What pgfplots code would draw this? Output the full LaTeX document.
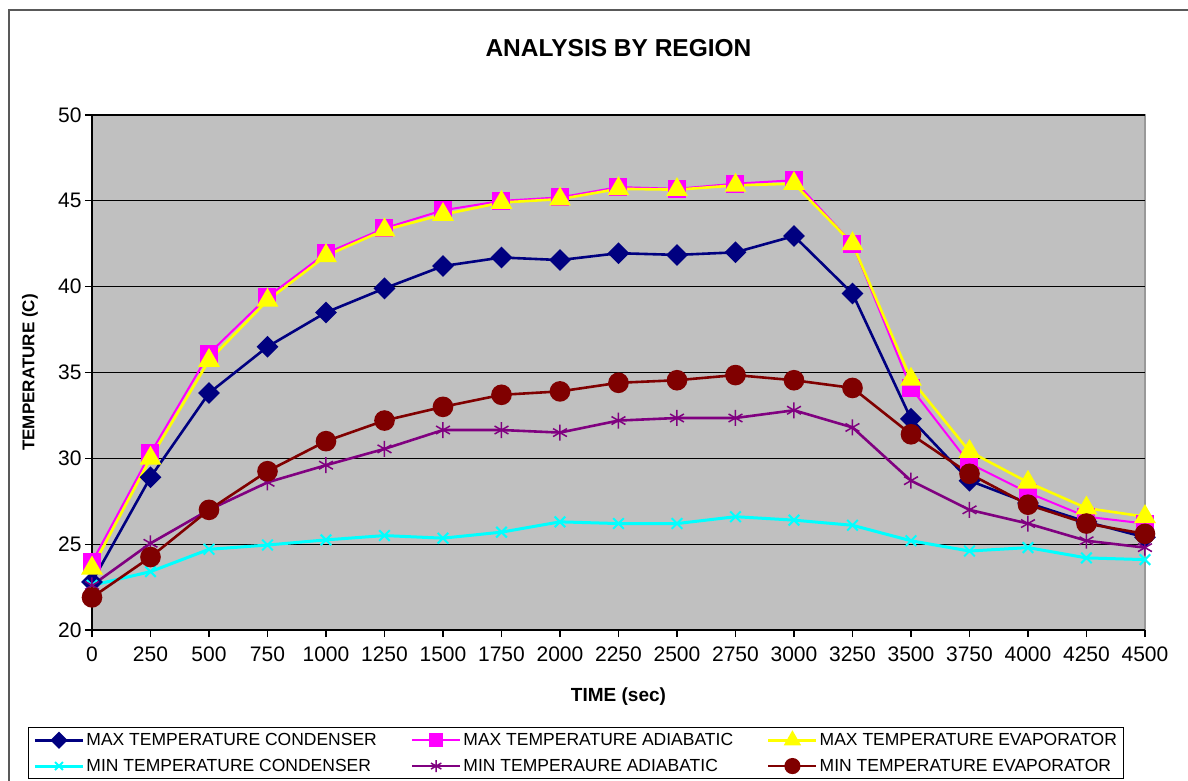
\documentclass[border=0pt]{standalone}
\usepackage{fontspec}
\setmainfont{Liberation Sans}
\usepackage{pgfplots}
\pgfplotsset{compat=1.18}
\usepackage{pgfplotstable}
\definecolor{cnavy}{HTML}{000080}
\definecolor{cmag}{HTML}{FF00FF}
\definecolor{cyel}{HTML}{FFFF00}
\definecolor{ccyan}{HTML}{00FFFF}
\definecolor{cpurp}{HTML}{800080}
\definecolor{cmaroon}{HTML}{800000}
\definecolor{csilver}{HTML}{C0C0C0}

\pgfplotstableread{
t     maxc  maxa  maxe  minc  mina  mine
0     22.8  23.95 23.6  22.6  22.6  21.9
250   28.9  30.3  30.0  23.4  25.05 24.25
500   33.8  36.1  35.7  24.7  27.0  27.0
750   36.5  39.4  39.2  24.95 28.6  29.25
1000  38.5  41.95 41.8  25.25 29.6  31.0
1250  39.9  43.4  43.3  25.5  30.55 32.2
1500  41.2  44.45 44.2  25.35 31.65 33.0
1750  41.7  45.0  44.9  25.7  31.65 33.7
2000  41.55 45.2  45.1  26.3  31.5  33.9
2250  41.95 45.8  45.7  26.2  32.2  34.4
2500  41.85 45.7  45.65 26.2  32.35 34.55
2750  42.0  46.0  45.9  26.6  32.35 34.85
3000  42.95 46.2  46.0  26.4  32.8  34.55
3250  39.6  42.5  42.5  26.1  31.8  34.1
3500  32.3  34.1  34.6  25.2  28.7  31.4
3750  28.7  29.7  30.4  24.6  27.0  29.1
4000  27.4  28.0  28.6  24.8  26.2  27.3
4250  26.3  26.6  27.1  24.2  25.2  26.2
4500  25.4  26.2  26.6  24.1  24.8  25.6
}\datatable

\begin{document}
\begin{tikzpicture}
\useasboundingbox (0,0) rectangle (1188pt,780pt);
\draw[gray!70!black, line width=1.5pt] (9pt,-20pt) -- (9pt,770pt) -- (1200pt,770pt);
\begin{axis}[
  at={(92pt,150pt)}, anchor=south west,
  scale only axis, width=1053pt, height=515pt,
  xmin=0, xmax=4500, ymin=20, ymax=50,
  xtick={0,250,...,4500}, ytick={20,25,...,50},
  scaled x ticks=false,
  /pgf/number format/1000 sep={},
  /pgf/number format/assume math mode=true,
  axis x line*=bottom, axis y line*=left,
  axis line style={-, black, line width=1.2pt},
  axis background/.style={fill=csilver, draw=gray!80, line width=1.5pt},
  tick align=outside, major tick length=7pt,
  tick style={black, line width=1.2pt},
  ymajorgrids, grid style={black, line width=1.2pt},
  ticklabel style={font=\fontsize{21}{25}\selectfont},
  xticklabel style={yshift=-6pt},
  title={ANALYSIS BY REGION},
  title style={at={(0.5,1.119)}, anchor=center, font=\fontsize{24.5}{28}\selectfont\bfseries},
  xlabel={TIME (sec)},
  xlabel style={at={(0.5,-0.130)}, anchor=center, font=\fontsize{19}{23}\selectfont\bfseries},
  ylabel={TEMPERATURE (C)},
  ylabel style={at={(-0.0589,0.5)}, anchor=center, font=\fontsize{17}{21}\selectfont\bfseries},
  legend columns=3,
  legend cell align=left,
  legend style={at={(-0.0608,-0.1883)}, anchor=north west, draw=black, line width=1pt, fill=white,
    font=\fontsize{17.5}{21}\selectfont, inner xsep=5pt, inner ysep=4pt,
    /tikz/every even column/.append style={column sep=32pt}, row sep=8pt},
  legend image code/.code={\draw[mark repeat=2, mark phase=2] plot coordinates {(0pt,0pt) (24pt,0pt) (48pt,0pt)};},
  legend image post style={/tikz/every mark/.append style={scale=0.75}},
]
\addplot[cnavy, line width=2.6pt, mark=square*, mark size=6.4pt, mark options={rotate=45, solid, fill=cnavy}] table[x=t, y=maxc] {\datatable};
\addlegendentry{MAX TEMPERATURE CONDENSER}
\addplot[cmag, line width=2pt, mark=square*, mark size=8pt, mark options={solid, fill=cmag}] table[x=t, y=maxa] {\datatable};
\addlegendentry{MAX TEMPERATURE ADIABATIC}
\addplot[cyel, line width=2.6pt, mark=triangle*, mark size=10pt, mark options={solid, fill=cyel}] table[x=t, y=maxe] {\datatable};
\addlegendentry{MAX TEMPERATURE EVAPORATOR}
\addplot[ccyan, line width=3pt, mark=x, mark size=7.5pt, mark options={solid, line width=2pt}] table[x=t, y=minc] {\datatable};
\addlegendentry{MIN TEMPERATURE CONDENSER}
\addplot[cpurp, line width=2.6pt, mark=asterisk, mark size=8pt, mark options={solid, line width=1.5pt}] table[x=t, y=mina] {\datatable};
\addlegendentry{MIN TEMPERAURE ADIABATIC}
\addplot[cmaroon, line width=2.6pt, mark=*, mark size=9pt, mark options={solid, fill=cmaroon}] table[x=t, y=mine] {\datatable};
\addlegendentry{MIN TEMPERATURE EVAPORATOR}
\end{axis}
\end{tikzpicture}
\end{document}
